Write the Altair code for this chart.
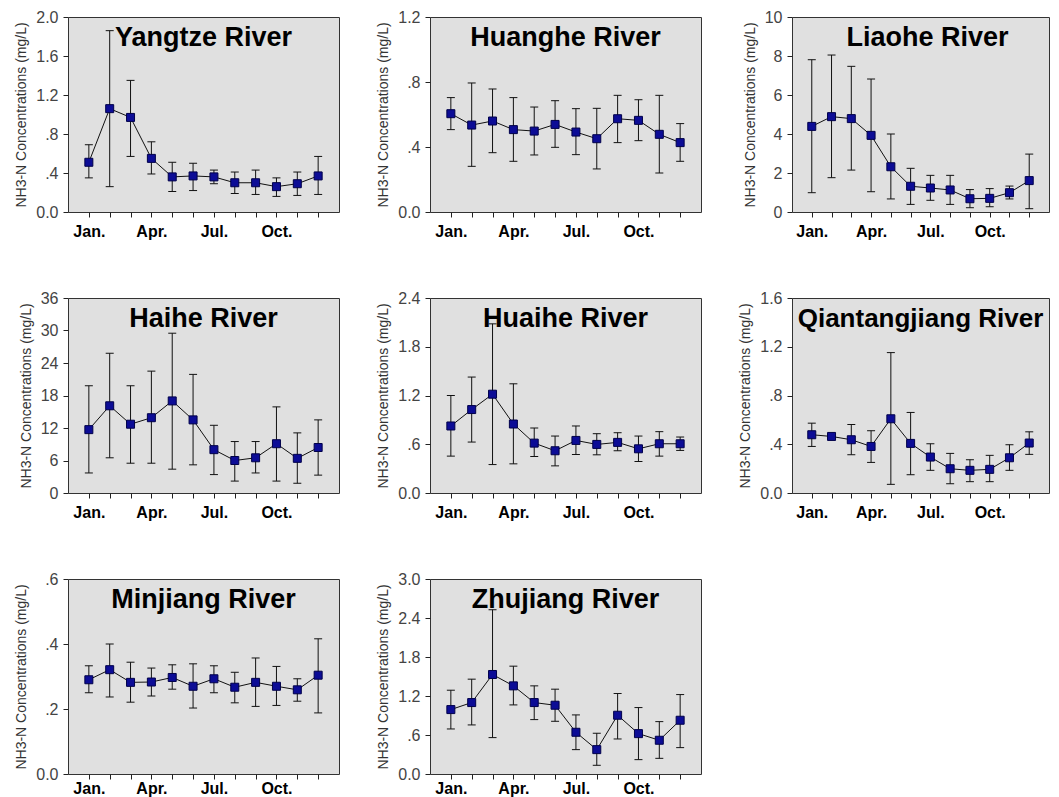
import altair as alt
import pandas as pd

months = list(range(1, 13))
month_tick_labels = {1: "Jan.", 4: "Apr.", 7: "Jul.", 10: "Oct."}
y_title = "NH3-N Concentrations (mg/L)"

# ---- data (monthly mean, upper and lower error-bar ends) ----
yangtze_mean = [0.51, 1.06, 0.97, 0.55, 0.36, 0.37, 0.36, 0.30, 0.30, 0.26, 0.29, 0.37]
yangtze_upper = [0.69, 1.86, 1.35, 0.72, 0.51, 0.50, 0.43, 0.41, 0.43, 0.35, 0.41, 0.57]
yangtze_lower = [0.35, 0.26, 0.57, 0.39, 0.21, 0.22, 0.29, 0.19, 0.18, 0.16, 0.17, 0.18]
yangtze_ticks = [0, 0.4, 0.8, 1.2, 1.6, 2.0]
yangtze_tick_labels = ["0.0", ".4", ".8", "1.2", "1.6", "2.0"]

huanghe_mean = [0.605, 0.535, 0.56, 0.507, 0.498, 0.539, 0.492, 0.451, 0.574, 0.564, 0.478, 0.427]
huanghe_upper = [0.704, 0.794, 0.757, 0.704, 0.646, 0.685, 0.636, 0.638, 0.718, 0.691, 0.718, 0.544]
huanghe_lower = [0.507, 0.281, 0.365, 0.312, 0.351, 0.398, 0.353, 0.265, 0.427, 0.439, 0.24, 0.312]
huanghe_ticks = [0, 0.4, 0.8, 1.2]
huanghe_tick_labels = ["0.0", ".4", ".8", "1.2"]

liaohe_mean = [4.39, 4.89, 4.79, 3.93, 2.32, 1.32, 1.23, 1.13, 0.68, 0.70, 0.99, 1.61]
liaohe_upper = [7.81, 8.05, 7.47, 6.82, 4.00, 2.24, 1.88, 1.88, 1.15, 1.20, 1.33, 2.97]
liaohe_lower = [0.99, 1.76, 2.15, 1.04, 0.67, 0.39, 0.60, 0.39, 0.22, 0.27, 0.67, 0.17]
liaohe_ticks = [0, 2, 4, 6, 8, 10]
liaohe_tick_labels = ["0", "2", "4", "6", "8", "10"]

haihe_mean = [11.7, 16.1, 12.7, 13.9, 17.0, 13.5, 8.0, 6.0, 6.5, 9.1, 6.4, 8.4]
haihe_upper = [19.8, 25.8, 19.8, 22.5, 29.5, 21.9, 12.5, 9.5, 9.5, 15.9, 11.1, 13.5]
haihe_lower = [3.7, 6.5, 5.5, 5.5, 4.4, 5.2, 3.4, 2.2, 3.7, 2.2, 1.8, 3.3]
haihe_ticks = [0, 6, 12, 18, 24, 30, 36]
haihe_tick_labels = ["0", "6", "12", "18", "24", "30", "36"]

huaihe_mean = [0.825, 1.027, 1.216, 0.849, 0.614, 0.52, 0.647, 0.598, 0.623, 0.544, 0.606, 0.606]
huaihe_upper = [1.20, 1.427, 2.082, 1.344, 0.80, 0.701, 0.825, 0.73, 0.742, 0.701, 0.755, 0.689]
huaihe_lower = [0.454, 0.627, 0.35, 0.359, 0.449, 0.334, 0.474, 0.47, 0.52, 0.388, 0.454, 0.524]
huaihe_ticks = [0, 0.6, 1.2, 1.8, 2.4]
huaihe_tick_labels = ["0.0", ".6", "1.2", "1.8", "2.4"]

qiantang_mean = [0.478, 0.464, 0.437, 0.382, 0.609, 0.407, 0.295, 0.199, 0.186, 0.194, 0.289, 0.41]
qiantang_upper = [0.573, 0.475, 0.562, 0.511, 1.152, 0.661, 0.404, 0.325, 0.273, 0.309, 0.396, 0.502]
qiantang_lower = [0.382, 0.453, 0.314, 0.251, 0.071, 0.15, 0.186, 0.076, 0.093, 0.093, 0.186, 0.317]
qiantang_ticks = [0, 0.4, 0.8, 1.2, 1.6]
qiantang_tick_labels = ["0.0", ".4", ".8", "1.2", "1.6"]

minjiang_mean = [0.290, 0.321, 0.282, 0.283, 0.297, 0.270, 0.293, 0.267, 0.282, 0.270, 0.259, 0.304]
minjiang_upper = [0.333, 0.400, 0.344, 0.326, 0.336, 0.339, 0.333, 0.313, 0.357, 0.331, 0.293, 0.416]
minjiang_lower = [0.250, 0.237, 0.221, 0.240, 0.261, 0.203, 0.250, 0.219, 0.208, 0.211, 0.224, 0.188]
minjiang_ticks = [0, 0.2, 0.4, 0.6]
minjiang_tick_labels = ["0.0", ".2", ".4", ".6"]

zhujiang_mean = [0.991, 1.099, 1.531, 1.356, 1.099, 1.058, 0.642, 0.375, 0.904, 0.621, 0.519, 0.827]
zhujiang_upper = [1.289, 1.459, 2.527, 1.659, 1.356, 1.305, 0.909, 0.627, 1.238, 1.022, 0.806, 1.222]
zhujiang_lower = [0.693, 0.755, 0.560, 1.063, 0.837, 0.811, 0.375, 0.134, 0.539, 0.221, 0.241, 0.406]
zhujiang_ticks = [0, 0.6, 1.2, 1.8, 2.4, 3.0]
zhujiang_tick_labels = ["0.0", ".6", "1.2", "1.8", "2.4", "3.0"]

W = 271
W_LAST = 257   # right-hand column is clipped by the page edge in the original
H = 195
FONT = "Liberation Sans"


def label_expr(values, labels):
    expr = "''"
    for v, l in reversed(list(zip(values, labels))):
        expr = f"abs(datum.value - {v}) < 1e-6 ? '{l}' : ({expr})"
    return expr


x_expr = label_expr(list(month_tick_labels.keys()), list(month_tick_labels.values()))


def panel(name, mean, upper, lower, ticks, tick_labels, w=W, title_x=None, title_size=27, xpad=6):
    df = pd.DataFrame({"month": months, "mean": mean, "upper": upper, "lower": lower})
    x_scale = alt.Scale(domain=[0, 13], nice=False, zero=False)
    x_axis = alt.Axis(values=months, labelExpr=x_expr, title=None, grid=False,
                      domain=False, tickSize=5, labelPadding=xpad, labelFontSize=16,
                      labelFontWeight="bold", labelColor="black", labelFont=FONT,
                      tickColor="#222", labelFlush=False, labelOverlap=False)
    y_scale = alt.Scale(domain=[0, ticks[-1]], nice=False, zero=True)
    y_axis = alt.Axis(values=ticks, labelExpr=label_expr(ticks, tick_labels), title=y_title,
                      grid=False, domain=False, tickSize=5, labelPadding=5,
                      labelFontSize=16, labelColor="#444", labelFont=FONT,
                      titleFontSize=14, titleFontWeight="normal", titleColor="#333",
                      titleFont=FONT, titlePadding=7, tickColor="#222",
                      labelFlush=False, labelOverlap=False)
    X = alt.X("month:Q", scale=x_scale, axis=x_axis)
    base = alt.Chart(df)
    bars = base.mark_rule(color="#111", strokeWidth=1).encode(
        x=X, y=alt.Y("lower:Q", scale=y_scale, axis=y_axis), y2="upper:Q")
    cap_hi = base.mark_tick(orient="horizontal", size=8, thickness=1, color="#111", opacity=1).encode(
        x=X, y=alt.Y("upper:Q", scale=y_scale, axis=y_axis))
    cap_lo = base.mark_tick(orient="horizontal", size=8, thickness=1, color="#111", opacity=1).encode(
        x=X, y=alt.Y("lower:Q", scale=y_scale, axis=y_axis))
    line = base.mark_line(color="#111", strokeWidth=1).encode(
        x=X, y=alt.Y("mean:Q", scale=y_scale, axis=y_axis))
    pts = base.mark_square(size=64, fill="#0c0c96", stroke="#00004a", strokeWidth=1, opacity=1).encode(
        x=X, y=alt.Y("mean:Q", scale=y_scale, axis=y_axis))
    tx = title_x if title_x is not None else w / 2
    ttl = alt.Chart(pd.DataFrame({"t": [name]})).mark_text(
        font=FONT, fontSize=title_size, fontWeight="bold", color="black", align="center",
        baseline="alphabetic").encode(text="t:N", x=alt.value(tx), y=alt.value(29))
    return alt.layer(bars, cap_hi, cap_lo, line, pts, ttl).properties(width=w, height=H)


panels = [
    panel("Yangtze River", yangtze_mean, yangtze_upper, yangtze_lower, yangtze_ticks, yangtze_tick_labels),
    panel("Huanghe River", huanghe_mean, huanghe_upper, huanghe_lower, huanghe_ticks, huanghe_tick_labels),
    panel("Liaohe River", liaohe_mean, liaohe_upper, liaohe_lower, liaohe_ticks, liaohe_tick_labels,
          w=W_LAST, title_x=W / 2),
    panel("Haihe River", haihe_mean, haihe_upper, haihe_lower, haihe_ticks, haihe_tick_labels),
    panel("Huaihe River", huaihe_mean, huaihe_upper, huaihe_lower, huaihe_ticks, huaihe_tick_labels),
    panel("Qiantangjiang River", qiantang_mean, qiantang_upper, qiantang_lower, qiantang_ticks,
          qiantang_tick_labels, w=W_LAST, title_x=W_LAST / 2, title_size=26),
    panel("Minjiang River", minjiang_mean, minjiang_upper, minjiang_lower, minjiang_ticks,
          minjiang_tick_labels, xpad=1),
    panel("Zhujiang River", zhujiang_mean, zhujiang_upper, zhujiang_lower, zhujiang_ticks,
          zhujiang_tick_labels, xpad=1),
]

chart = alt.concat(*panels, columns=3, spacing=alt.RowColnumber(row=49, column=36)).resolve_scale(
    x="independent", y="independent"
).properties(
    padding={"left": 6, "top": 0, "right": 0, "bottom": 0}, background="white"
).configure_view(
    fill="#e0e0e0", stroke="#333333", strokeWidth=1
)

chart.save("out.html", embed_options={"renderer": "svg", "actions": False})
